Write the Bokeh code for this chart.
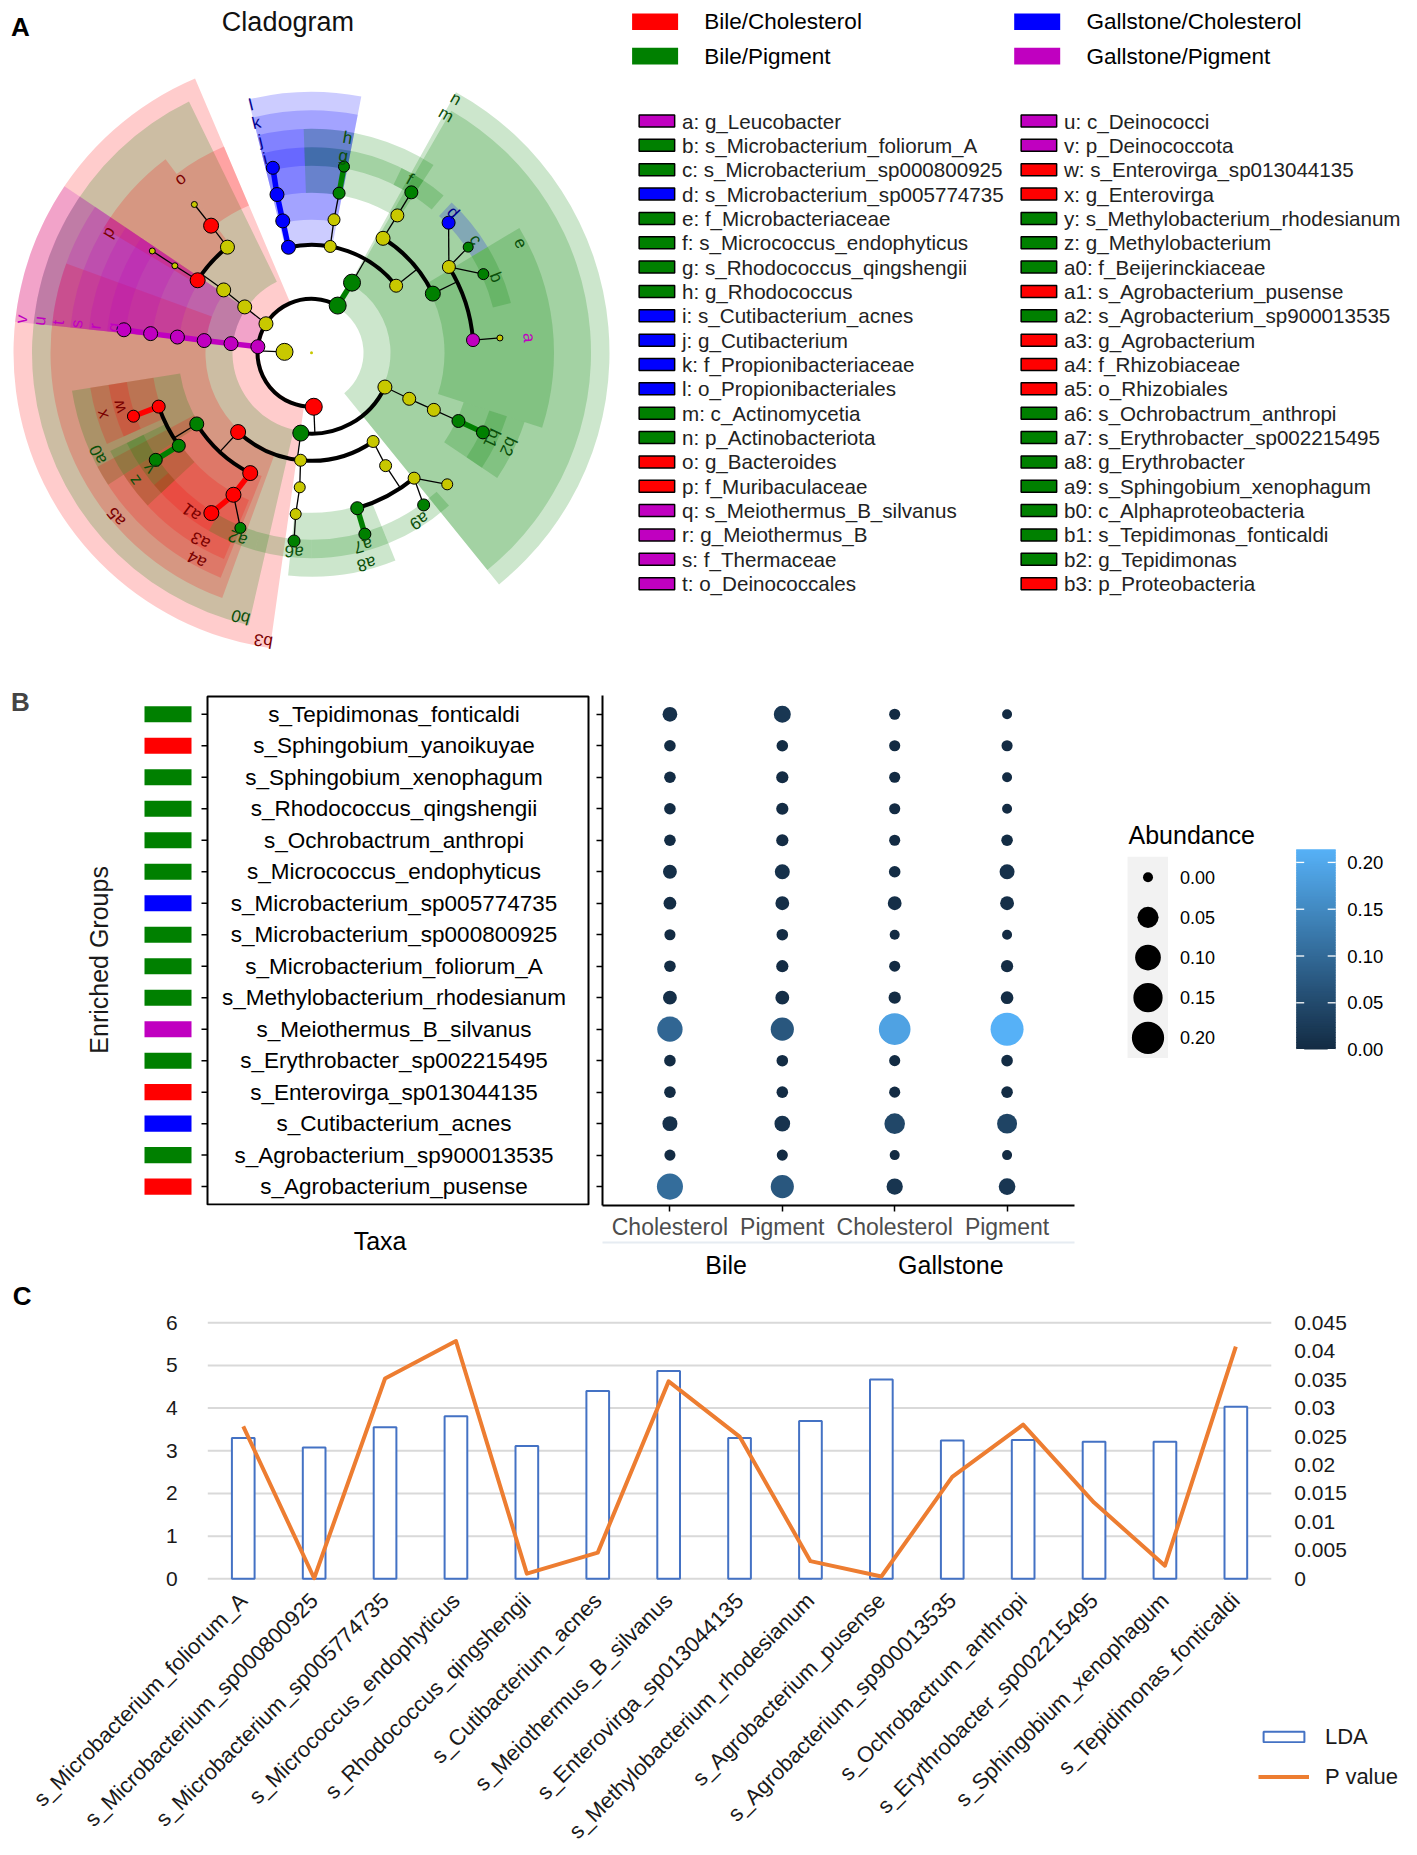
import math
import numpy as np
from bokeh.plotting import figure
from bokeh.models import (Range1d, FixedTicker, LinearAxis, ColumnDataSource, Label, Legend, LegendItem,
                          NumeralTickFormatter)
from bokeh.layouts import column, row
from bokeh.core.properties import value
from bokeh.transform import linear_cmap
from bokeh.embed import file_html
from bokeh.resources import INLINE

FONT = "Liberation Sans"

# ============================ DATA ============================
# ---- Panel A : groups ----
group_keys = ["BC", "BP", "GC", "GP"]
group_labels = ["Bile/Cholesterol", "Bile/Pigment", "Gallstone/Cholesterol", "Gallstone/Pigment"]

# ---- Panel A : biomarker letters ----
letter_keys = ["a", "b", "c", "d", "e", "f", "g", "h", "i", "j", "k", "l", "m", "n", "o", "p", "q", "r", "s", "t",
               "u", "v", "w", "x", "y", "z", "a0", "a1", "a2", "a3", "a4", "a5", "a6", "a7", "a8", "a9",
               "b0", "b1", "b2", "b3"]
letter_taxa = ["g_Leucobacter", "s_Microbacterium_foliorum_A", "s_Microbacterium_sp000800925",
               "s_Microbacterium_sp005774735", "f_Microbacteriaceae", "s_Micrococcus_endophyticus",
               "s_Rhodococcus_qingshengii", "g_Rhodococcus", "s_Cutibacterium_acnes", "g_Cutibacterium",
               "f_Propionibacteriaceae", "o_Propionibacteriales", "c_Actinomycetia", "p_Actinobacteriota",
               "g_Bacteroides", "f_Muribaculaceae", "s_Meiothermus_B_silvanus", "g_Meiothermus_B",
               "f_Thermaceae", "o_Deinococcales", "c_Deinococci", "p_Deinococcota", "s_Enterovirga_sp013044135",
               "g_Enterovirga", "s_Methylobacterium_rhodesianum", "g_Methylobacterium", "f_Beijerinckiaceae",
               "s_Agrobacterium_pusense", "s_Agrobacterium_sp900013535", "g_Agrobacterium", "f_Rhizobiaceae",
               "o_Rhizobiales", "s_Ochrobactrum_anthropi", "s_Erythrobacter_sp002215495", "g_Erythrobacter",
               "s_Sphingobium_xenophagum", "c_Alphaproteobacteria", "s_Tepidimonas_fonticaldi",
               "g_Tepidimonas", "p_Proteobacteria"]
letter_group = ["GP", "BP", "BP", "GC", "BP", "BP", "BP", "BP", "GC", "GC", "GC", "GC", "BP", "BP", "BC", "BC",
                "GP", "GP", "GP", "GP", "GP", "GP", "BC", "BC", "BP", "BP", "BP", "BC", "BP", "BC", "BC", "BC",
                "BP", "BP", "BP", "BP", "BP", "BP", "BP", "BC"]
letter_label_angle = [4, 22.2, 34.6, 44.7, 27.7, 60.5, 80.8, 80.5, 103.5, 103.5, 103.5, 103.7, 60.5, 60.4,
                      127, 149.3, 172.7, 173, 173, 173.2, 173.3, 173.4, 195.6, 196.4, 215.5, 215.8, 205.5,
                      233, 248.3, 239.4, 241, 220, 265, 285, 284.6, 302.7, 255, 334.7, 334.6, 260.5]

# ---- Panel A : cladogram tree (level 0 = kingdom ... 6 = species; angle in degrees) ----
node_id = ["root", "K", "n", "m", "l", "k", "j", "i", "myc", "noc", "h", "g", "mco", "mcf", "mcg", "f", "e",
           "mbg", "d", "c", "b", "a", "a_s",
           "bap", "bac", "bao", "baf", "o", "o_s", "p", "p_g", "p_s",
           "v", "u", "t", "s", "r", "q",
           "b3", "b0", "a5", "a0", "x", "w", "z", "y", "a4", "a3", "a1", "a2",
           "o264", "f265", "g264", "a6", "o305", "f303", "a8", "a7", "g309", "a9", "s316",
           "gmc", "gmo", "gmf", "b2", "b1"]
node_parent = [None, "root", "K", "n", "m", "l", "k", "j", "m", "myc", "noc", "h", "m", "mco", "mcf", "mcg", "mco",
               "e", "mbg", "mbg", "mbg", "e", "a",
               "K", "bap", "bac", "bao", "baf", "o", "bao", "p", "p_g",
               "K", "v", "u", "t", "s", "r",
               "K", "b3", "b0", "a5", "a0", "x", "a0", "z", "a5", "a4", "a3", "a3",
               "b0", "o264", "f265", "g264", "b0", "o305", "f303", "a8", "f303", "g309", "g309",
               "b3", "gmc", "gmo", "gmf", "b2"]
node_level = [-1, 0, 1, 2, 3, 4, 5, 6, 3, 4, 5, 6, 3, 4, 5, 6, 4, 5, 6, 6, 6, 5, 6,
              1, 2, 3, 4, 5, 6, 4, 5, 6,
              1, 2, 3, 4, 5, 6,
              1, 2, 3, 4, 5, 6, 5, 6, 4, 5, 6, 6,
              3, 4, 5, 6, 3, 4, 5, 6, 5, 6, 6,
              2, 3, 4, 5, 6]
node_angle = [0, 178, 61, 60, 102.3, 102.3, 102.3, 101.8, 80, 80.4, 80.2, 80.1, 38.4, 58, 58, 58.1, 26,
              32, 43.5, 34, 24.6, 4.5, 4.5,
              147.5, 145.5, 144.4, 128.5, 128.3, 128.3, 147.5, 147.5, 147.4,
              173.5, 173.5, 173.5, 173.3, 173.2, 173,
              272.4, 262.4, 227.2, 211.8, 199.4, 199.6, 215, 214.5, 243, 241.2, 238, 247.9,
              264.2, 265, 264.4, 264.7, 304.8, 303.3, 286.4, 286.4, 309.3, 306.4, 315.9,
              335, 334.8, 335, 335.1, 335.1]
node_size = [3, 17, 17, 17, 14, 14, 14, 13, 12, 12, 12, 11, 13, 14, 13, 13, 15, 13, 13, 10, 11, 13, 6,
             14, 14, 14, 14, 15, 6, 15, 6, 6,
             14, 14, 14, 14, 14, 14,
             17, 16, 15, 14, 13, 12, 13, 13, 15, 15, 15, 11,
             12, 11, 11, 12, 12, 12, 13, 12, 12, 12, 11,
             14, 13, 13, 13, 13]

# ---- Panel A : clade shading (angular extent, degrees) ----
wedge_key = ["b3", "n", "m", "b0", "a5", "v", "u", "t", "s", "r", "q", "l", "k", "j", "i", "p", "a0", "a4",
             "e", "o", "h", "x", "z", "a3", "a8", "b2", "g", "f", "d", "c", "b", "w", "y", "a1", "a2", "a6",
             "a7", "a9", "b1"]
wedge_start = [113, -51, -51, 116, 160, 146, 146, 146, 146, 146, 146, 79, 79, 79, 79, 127, 189, 208,
               -18, 113, 57, 189, 206, 213, 264, 326, 57, 50, 31, 24, 14, 189, 206, 220, 240, 254,
               270, 292, 326]
wedge_end = [262, 61, 60, 257, 250, 174, 174, 174, 174, 174, 174, 104, 104, 104, 104, 149, 213, 248,
             31, 127, 92, 204, 223, 247, 292, 342, 92, 64, 47, 31, 24, 204, 223, 240, 254, 270,
             292, 312, 342]

# ---- Panel B ----
taxa_b = ["s_Tepidimonas_fonticaldi", "s_Sphingobium_yanoikuyae", "s_Sphingobium_xenophagum",
          "s_Rhodococcus_qingshengii", "s_Ochrobactrum_anthropi", "s_Micrococcus_endophyticus",
          "s_Microbacterium_sp005774735", "s_Microbacterium_sp000800925", "s_Microbacterium_foliorum_A",
          "s_Methylobacterium_rhodesianum", "s_Meiothermus_B_silvanus", "s_Erythrobacter_sp002215495",
          "s_Enterovirga_sp013044135", "s_Cutibacterium_acnes", "s_Agrobacterium_sp900013535",
          "s_Agrobacterium_pusense"]
enriched_b = ["Bile/Pigment", "Bile/Cholesterol", "Bile/Pigment", "Bile/Pigment", "Bile/Pigment",
              "Bile/Pigment", "Gallstone/Cholesterol", "Bile/Pigment", "Bile/Pigment", "Bile/Pigment",
              "Gallstone/Pigment", "Bile/Pigment", "Bile/Cholesterol", "Gallstone/Cholesterol",
              "Bile/Pigment", "Bile/Cholesterol"]
sites_b = ["Bile", "Gallstone"]
conditions_b = ["Cholesterol", "Pigment", "Cholesterol", "Pigment"]
ab_bile_chol = [0.009, 0.001, 0.001, 0.001, 0.001, 0.006, 0.003, 0.0005, 0.001, 0.006, 0.095, 0.001, 0.001,
                0.010, 0.0005, 0.105]
ab_bile_pig = [0.020, 0.001, 0.002, 0.002, 0.002, 0.010, 0.006, 0.001, 0.002, 0.006, 0.070, 0.001, 0.001,
               0.013, 0.0005, 0.070]
ab_gall_chol = [0.0005, 0.0005, 0.0005, 0.0005, 0.0005, 0.001, 0.006, 0.0, 0.0005, 0.002, 0.190, 0.0005,
                0.0005, 0.045, 0.0, 0.016]
ab_gall_pig = [0.0, 0.0005, 0.0, 0.0, 0.001, 0.010, 0.006, 0.0, 0.002, 0.003, 0.214, 0.001, 0.001, 0.040,
               0.0, 0.018]
size_breaks = [0.00, 0.05, 0.10, 0.15, 0.20]

# ---- Panel C ----
species_c = ["s_Microbacterium_foliorum_A", "s_Microbacterium_sp000800925", "s_Microbacterium_sp005774735",
             "s_Micrococcus_endophyticus", "s_Rhodococcus_qingshengii", "s_Cutibacterium_acnes",
             "s_Meiothermus_B_silvanus", "s_Enterovirga_sp013044135", "s_Methylobacterium_rhodesianum",
             "s_Agrobacterium_pusense", "s_Agrobacterium_sp900013535", "s_Ochrobactrum_anthropi",
             "s_Erythrobacter_sp002215495", "s_Sphingobium_xenophagum", "s_Tepidimonas_fonticaldi"]
lda_c = [3.30, 3.08, 3.55, 3.81, 3.11, 4.40, 4.87, 3.30, 3.70, 4.67, 3.24, 3.25, 3.21, 3.21, 4.03]
pval_c = [0.0268, 0.0001, 0.0352, 0.0418, 0.0009, 0.0046, 0.0347, 0.0250, 0.0031, 0.0004, 0.0179,
          0.0271, 0.0134, 0.0023, 0.0408]
lda_ticks = [0, 1, 2, 3, 4, 5, 6]
p_ticks = [0, 0.005, 0.01, 0.015, 0.02, 0.025, 0.03, 0.035, 0.04, 0.045]
legend_c = ["LDA", "P value"]

# ============================ STYLE ============================
GROUP_FILL = {"BC": "#FF0000", "BP": "#008000", "GC": "#0000FF", "GP": "#C000C0", "ns": "#C8C800"}
GROUP_TEXT = {"BC": "#7A0000", "BP": "#0A4F0A", "GC": "#00008B", "GP": "#C000C0"}
LABEL_TO_KEY = dict(zip(group_labels, group_keys))
BAR_BLUE, LINE_ORANGE = "#4472C4", "#ED7D31"


def rad(d):
    return d * math.pi / 180.0


def common(p):
    p.outline_line_color = None
    p.background_fill_color = "white"
    p.border_fill_color = "white"
    return p


# ============================ PANEL A ============================
WA, HA = 1417, 668
pA = common(figure(width=WA, height=HA, x_range=Range1d(0, WA), y_range=Range1d(-HA, 0),
                   output_backend="svg", toolbar_location=None, x_axis_type=None, y_axis_type=None,
                   min_border=0, title=None))

CX, CY = 311.0, -352.3
STEP = 27.0


def ring_r(level):
    return STEP * (level + 1)


def shade_outer(level):
    return 298.0 - 18.5 * (level - 1)


info = {}
for i, nid in enumerate(node_id):
    grp = letter_group[letter_keys.index(nid)] if nid in letter_keys else "ns"
    info[nid] = dict(parent=node_parent[i], level=node_level[i], angle=node_angle[i],
                     size=node_size[i], group=grp)


def pos(nid, r=None):
    n = info[nid]
    rr = ring_r(n["level"]) if r is None else r
    return CX + rr * math.cos(rad(n["angle"])), CY + rr * math.sin(rad(n["angle"]))


# clade shading
order = sorted(range(len(wedge_key)), key=lambda i: info[wedge_key[i]]["level"])
wd = dict(inner=[], outer=[], start=[], end=[], color=[])
for i in order:
    k = wedge_key[i]
    lvl = info[k]["level"]
    wd["inner"].append(ring_r(lvl) - 2)
    wd["outer"].append(shade_outer(lvl))
    wd["start"].append(rad(wedge_start[i]))
    wd["end"].append(rad(wedge_end[i]))
    wd["color"].append(GROUP_FILL[info[k]["group"]])
pA.annular_wedge(x=CX, y=CY, inner_radius="inner", outer_radius="outer", start_angle="start",
                 end_angle="end", fill_color="color", fill_alpha=0.2, line_color=None,
                 source=ColumnDataSource(wd))

# edges
children = {}
for nid in node_id:
    par = info[nid]["parent"]
    if par is None or par == "root":
        continue
    children.setdefault(par, []).append(nid)

thin = dict(x0=[], y0=[], x1=[], y1=[])
thick = dict(x0=[], y0=[], x1=[], y1=[], c=[])
arcs = dict(r=[], a0=[], a1=[])
for par, kids in children.items():
    P = info[par]
    if len(kids) == 1 or all(info[k]["level"] == 6 for k in kids):
        for k in kids:
            x0, y0 = pos(par)
            x1, y1 = pos(k)
            g = info[k]["group"]
            if g != "ns" and g == P["group"]:
                for key, v in zip(["x0", "y0", "x1", "y1", "c"], [x0, y0, x1, y1, GROUP_FILL[g]]):
                    thick[key].append(v)
            else:
                for key, v in zip(["x0", "y0", "x1", "y1"], [x0, y0, x1, y1]):
                    thin[key].append(v)
    else:
        rc = ring_r(info[kids[0]]["level"])
        x0, y0 = pos(par)
        x1, y1 = pos(par, r=rc)
        for key, v in zip(["x0", "y0", "x1", "y1"], [x0, y0, x1, y1]):
            thin[key].append(v)
        angs = [info[k]["angle"] for k in kids] + [P["angle"]]
        arcs["r"].append(rc)
        arcs["a0"].append(rad(min(angs)))
        arcs["a1"].append(rad(max(angs)))

pA.segment(x0="x0", y0="y0", x1="x1", y1="y1", line_color="black", line_width=1.3,
           source=ColumnDataSource(thin))
pA.arc(x=CX, y=CY, radius="r", start_angle="a0", end_angle="a1", line_color="black", line_width=4,
       source=ColumnDataSource(arcs))
pA.segment(x0="x0", y0="y0", x1="x1", y1="y1", line_color="c", line_width=5.5,
           source=ColumnDataSource(thick))

nd = dict(x=[], y=[], s=[], c=[])
for nid in node_id:
    if nid == "root":
        continue
    x, y = pos(nid)
    nd["x"].append(x)
    nd["y"].append(y)
    nd["s"].append(info[nid]["size"])
    nd["c"].append(GROUP_FILL[info[nid]["group"]])
pA.scatter(x="x", y="y", size="s", fill_color="c", line_color="black", line_width=1,
           source=ColumnDataSource(nd))
pA.scatter(x=[CX], y=[CY], size=3, fill_color=GROUP_FILL["ns"], line_color=None)

# clade letters
ld = dict(x=[], y=[], t=[], a=[], c=[])
for k, ang, g in zip(letter_keys, letter_label_angle, letter_group):
    lvl = info[k]["level"]
    r = shade_outer(lvl) - 6
    ld["x"].append(CX + r * math.cos(rad(ang)))
    ld["y"].append(CY + r * math.sin(rad(ang)))
    ld["t"].append(k)
    ld["a"].append(rad(ang - 90))
    ld["c"].append(GROUP_TEXT[g])
pA.text(x="x", y="y", text="t", angle="a", text_color="c", text_align="center", text_baseline="middle",
        text_font_size="17px", text_font=value(FONT), source=ColumnDataSource(ld))

pA.text(x=[287.4], y=[-21], text=["Cladogram"], text_align="center", text_baseline="middle",
        text_font_size="27px", text_font=value(FONT), text_color="#111111")
pA.text(x=[20], y=[-26], text=["A"], text_align="center", text_baseline="middle",
        text_font_size="26px", text_font=value(FONT), text_font_style="bold", text_color="black")

# group legend
gl_x = [654.6, 654.6, 1036.7, 1036.7]
gl_y = [-21.3, -55.6, -21.3, -55.6]
gl_keys = ["BC", "BP", "GC", "GP"]
pA.rect(x=gl_x, y=gl_y, width=46, height=16.6, fill_color=[GROUP_FILL[k] for k in gl_keys], line_color=None)
pA.text(x=[x + 49.2 for x in gl_x], y=gl_y, text=[group_labels[group_keys.index(k)] for k in gl_keys],
        text_align="left", text_baseline="middle", text_font_size="22.5px", text_font=value(FONT),
        text_color="black")

# letter legend
lg = dict(sx=[], tx=[], y=[], c=[], t=[])
for idx, (k, name, g) in enumerate(zip(letter_keys, letter_taxa, letter_group)):
    col, rr = divmod(idx, 20)
    sx = 656.4 if col == 0 else 1038.4
    lg["sx"].append(sx)
    lg["tx"].append(sx + 25.1)
    lg["y"].append(-(120.5 + rr * 24.35))
    lg["c"].append(GROUP_FILL[g])
    lg["t"].append(f"{k}: {name}")
lsrc = ColumnDataSource(lg)
pA.rect(x="sx", y="y", width=35.5, height=12, fill_color="c", line_color="black", line_width=1.5,
        source=lsrc)
pA.text(x="tx", y="y", text="t", text_align="left", text_baseline="middle", text_font_size="20.6px",
        text_font=value(FONT), text_color="#222222", source=lsrc)

# ============================ PANEL B ============================
NR = len(taxa_b)
B_Y0 = HA            # page y where row B starts
HB = 613
PT, BB = 27, 74      # gap above the panel area, bottom border (axes)
UNIT = (HB - PT - BB) / (NR + 0.2)   # pixels per row
Y_TOP = -0.1 - PT / UNIT             # all three B plots start their frame at the row top
rows_y = [i + 0.5 for i in range(NR)]

pB1 = common(figure(width=590, height=HB, x_range=Range1d(0, 590), y_range=Range1d(NR + 0.1, Y_TOP),
                    output_backend="svg", toolbar_location=None, x_axis_type=None, y_axis_type=None,
                    min_border_left=0, min_border_right=0, min_border_top=0, min_border_bottom=BB,
                    title=None))
pB1.rect(x=167.5, y=rows_y, width=47, height=0.51,
         fill_color=[GROUP_FILL[LABEL_TO_KEY[e]] for e in enriched_b], line_color=None)
pB1.quad(left=207, right=588, top=-0.1 + 0.035, bottom=NR + 0.065, fill_color=None, line_color="black",
         line_width=2)
pB1.segment(x0=201, x1=207, y0=rows_y, y1=rows_y, line_color="black", line_width=1.5)
pB1.text(x=393.5, y=rows_y, text=taxa_b, text_align="center", text_baseline="middle",
         text_font_size="22.5px", text_font=value(FONT), text_color="black")
pB1.text(x=[98.8], y=[NR / 2 + 0.3], text=["Enriched Groups"], angle=math.pi / 2, text_align="center",
         text_baseline="middle", text_font_size="25px", text_font=value(FONT), text_color="#1a1a1a")
taxa_axis = LinearAxis(ticker=FixedTicker(ticks=[379.6]), major_label_overrides={379.6: "Taxa"},
                       major_label_text_font_size="25px", major_label_text_font=FONT,
                       major_label_text_color="black", major_tick_line_color=None, axis_line_color=None,
                       major_label_standoff=21, major_tick_out=0)
pB1.add_layout(taxa_axis, "below")
pB1.add_layout(Label(x=20, y=(B_Y0 + HB - BB) - 703, x_units="screen", y_units="screen", text="B",
                     text_font=FONT, text_font_size="26px", text_font_style="bold", text_align="center",
                     text_baseline="middle"))

AB_MAX = max(ab_bile_chol + ab_bile_pig + ab_gall_chol + ab_gall_pig)
palette = []
c0, c1 = (0x13, 0x2B, 0x43), (0x56, 0xB1, 0xF7)
for t in np.linspace(0, 1, 256):
    palette.append("#%02x%02x%02x" % tuple(int(round(a + (b - a) * t)) for a, b in zip(c0, c1)))


def dot_size(v):
    return 10 + 23 * math.sqrt(max(v, 0) / AB_MAX)


pB2 = common(figure(width=530, height=HB, x_range=Range1d(-0.1, 4.1), y_range=Range1d(NR + 0.1, Y_TOP),
                    output_backend="svg", toolbar_location=None, x_axis_type=None, y_axis_type=None,
                    min_border_left=12, min_border_right=46, min_border_top=0, min_border_bottom=BB,
                    title=None))
dd = dict(x=[], y=[], ab=[], s=[])
for ci, col in enumerate([ab_bile_chol, ab_bile_pig, ab_gall_chol, ab_gall_pig]):
    for ri, v in enumerate(col):
        dd["x"].append(ci + 0.5)
        dd["y"].append(ri + 0.5)
        dd["ab"].append(v)
        dd["s"].append(dot_size(v))
pB2.scatter(x="x", y="y", size="s", fill_color=linear_cmap("ab", palette, 0, AB_MAX), line_color=None,
            source=ColumnDataSource(dd))
yax = LinearAxis(ticker=FixedTicker(ticks=rows_y), bounds=(-0.1, NR + 0.1), major_label_text_font_size="1px",
                 major_label_text_color=None, major_tick_out=6, major_tick_in=0, axis_line_width=2,
                 major_tick_line_width=1.5, major_label_standoff=0)
pB2.add_layout(yax, "left")
xax = LinearAxis(ticker=FixedTicker(ticks=[0.5, 1.5, 2.5, 3.5]),
                 major_label_overrides={0.5 + i: c for i, c in enumerate(conditions_b)},
                 major_label_text_font_size="23px", major_label_text_font=FONT,
                 major_label_text_color="#4D4D4D", major_tick_out=6, major_tick_in=0, axis_line_width=2,
                 major_tick_line_width=1.5, major_label_standoff=2)
pB2.add_layout(xax, "below")
gax = LinearAxis(ticker=FixedTicker(ticks=[1.0, 3.0]),
                 major_label_overrides={1.0: sites_b[0], 3.0: sites_b[1]},
                 major_label_text_font_size="25px", major_label_text_font=FONT,
                 major_label_text_color="black", major_tick_line_color=None, major_tick_out=0,
                 axis_line_color="#E6ECF2", axis_line_width=2, major_label_standoff=8)
pB2.add_layout(gax, "below")

# legends panel (pixel coordinates, same frame as the other B plots)
X3 = 1120
pB3 = common(figure(width=WA - X3, height=HB, x_range=Range1d(X3, WA),
                    y_range=Range1d(-(B_Y0 + HB - BB), -B_Y0),
                    output_backend="svg", toolbar_location=None, x_axis_type=None, y_axis_type=None,
                    min_border_left=0, min_border_right=0, min_border_top=0, min_border_bottom=BB,
                    title=None))
pB3.text(x=[1128], y=[-835], text=["Abundance"], text_align="left", text_baseline="middle",
         text_font_size="25px", text_font=value(FONT), text_color="black")
pB3.rect(x=[1147.3], y=[-958], width=40.5, height=202, fill_color="#F2F2F2", line_color=None)
leg_y = [-(877.5 + i * 40.3) for i in range(len(size_breaks))]
pB3.scatter(x=[1147.5] * len(size_breaks), y=leg_y, size=[dot_size(v) for v in size_breaks],
            fill_color="black", line_color=None)
pB3.text(x=[1179.6] * len(size_breaks), y=leg_y, text=[f"{v:.2f}" for v in size_breaks],
         text_align="left", text_baseline="middle", text_font_size="18px", text_font=value(FONT),
         text_color="black")
CB_X0, CB_X1, CB_Y0, CB_H = 1295.7, 1335.2, 1050.5, 201.0
nstrip = 120
vs = np.linspace(0, AB_MAX, nstrip + 1)
cb = dict(b=[-(CB_Y0 - CB_H * vs[i] / AB_MAX) for i in range(nstrip)],
          t=[-(CB_Y0 - CB_H * vs[i + 1] / AB_MAX) + 0.8 for i in range(nstrip)],
          v=[(vs[i] + vs[i + 1]) / 2 for i in range(nstrip)])
cb["t"][-1] = -(CB_Y0 - CB_H)
pB3.quad(left=CB_X0, right=CB_X1, bottom="b", top="t", fill_color=linear_cmap("v", palette, 0, AB_MAX),
         line_color=None, source=ColumnDataSource(cb))
tick_y = [-(CB_Y0 - CB_H * v / AB_MAX) for v in size_breaks]
pB3.segment(x0=CB_X0, x1=CB_X0 + 8, y0=tick_y, y1=tick_y, line_color="white", line_width=1.3)
pB3.segment(x0=CB_X1 - 8, x1=CB_X1, y0=tick_y, y1=tick_y, line_color="white", line_width=1.3)
pB3.text(x=[1346.8] * len(size_breaks), y=tick_y, text=[f"{v:.2f}" for v in size_breaks],
         text_align="left", text_baseline="middle", text_font_size="18.5px", text_font=value(FONT),
         text_color="black")

# ============================ PANEL C ============================
C_Y0 = B_Y0 + HB            # page y where panel C starts
HC = 1850 - C_Y0
NC = len(species_c)
Y0P, PXU = 1578.3, 42.67     # page y of LDA = 0, pixels per LDA unit
X0P, SLOT = 207.3, 70.9      # page x of first category slot, slot width
PRATIO = 0.045 / 6.0         # secondary axis scale (P value per LDA unit)


def cxd(px):
    return (px - X0P) / SLOT


def cyd(py):
    return (Y0P - py) / PXU


pC = common(figure(width=WA, height=HC, x_range=Range1d(cxd(0), cxd(WA)),
                   y_range=Range1d(cyd(C_Y0 + HC), cyd(C_Y0)), output_backend="svg", toolbar_location=None,
                   x_axis_type=None, y_axis_type=None, min_border=0, title=None))
pC.extra_y_ranges = {"p": Range1d(cyd(C_Y0 + HC) * PRATIO, cyd(C_Y0) * PRATIO)}
xs_c = [i + 0.5 for i in range(NC)]
pC.segment(x0=0, x1=NC, y0=lda_ticks, y1=lda_ticks, line_color="#D9D9D9", line_width=2)
bars = pC.vbar(x=xs_c, top=lda_c, bottom=0, width=0.32, fill_color="white", line_color=BAR_BLUE,
               line_width=2)
pline = pC.line(x=xs_c, y=pval_c, y_range_name="p", line_color=LINE_ORANGE, line_width=4,
                line_join="round")

xaxC = LinearAxis(fixed_location=0, ticker=FixedTicker(ticks=xs_c),
                  major_label_overrides=dict(zip(xs_c, species_c)), major_label_orientation=math.pi / 4,
                  major_label_text_font_size="22px", major_label_text_font=FONT,
                  major_label_text_color="#1a1a1a", major_tick_line_color=None, minor_tick_line_color=None,
                  axis_line_color=None, major_label_standoff=12)
pC.add_layout(xaxC, "below")
yaxC = LinearAxis(fixed_location=0, ticker=FixedTicker(ticks=lda_ticks), major_label_text_font_size="21px",
                  major_label_text_font=FONT, major_label_text_color="#1a1a1a", major_tick_line_color=None,
                  minor_tick_line_color=None, axis_line_color=None, major_label_standoff=24)
pC.add_layout(yaxC, "left")
raxC = LinearAxis(y_range_name="p", fixed_location=NC, ticker=FixedTicker(ticks=p_ticks),
                  formatter=NumeralTickFormatter(format="0.[000]"), major_label_text_font_size="21px",
                  major_label_text_font=FONT, major_label_text_color="#1a1a1a", major_tick_line_color=None,
                  minor_tick_line_color=None, axis_line_color=None, major_label_standoff=17)
pC.add_layout(raxC, "right")

legC = Legend(items=[LegendItem(label=legend_c[0], renderers=[bars]),
                     LegendItem(label=legend_c[1], renderers=[pline])],
              location=(1258, (C_Y0 + HC) - 1789.5), glyph_width=51, glyph_height=13,
              label_text_font_size="22px", label_text_font=FONT, label_text_color="#1a1a1a", spacing=14,
              padding=0, margin=0, border_line_color=None, background_fill_alpha=0, label_standoff=16)
pC.add_layout(legC, "center")
pC.text(x=[cxd(21.7)], y=[cyd(1295)], text=["C"], text_align="center", text_baseline="middle",
        text_font_size="26px", text_font=value(FONT), text_font_style="bold", text_color="black")

layout = column(row(pA), row(pB1, pB2, pB3), row(pC))
open("out.html", "w").write(file_html(layout, INLINE))
